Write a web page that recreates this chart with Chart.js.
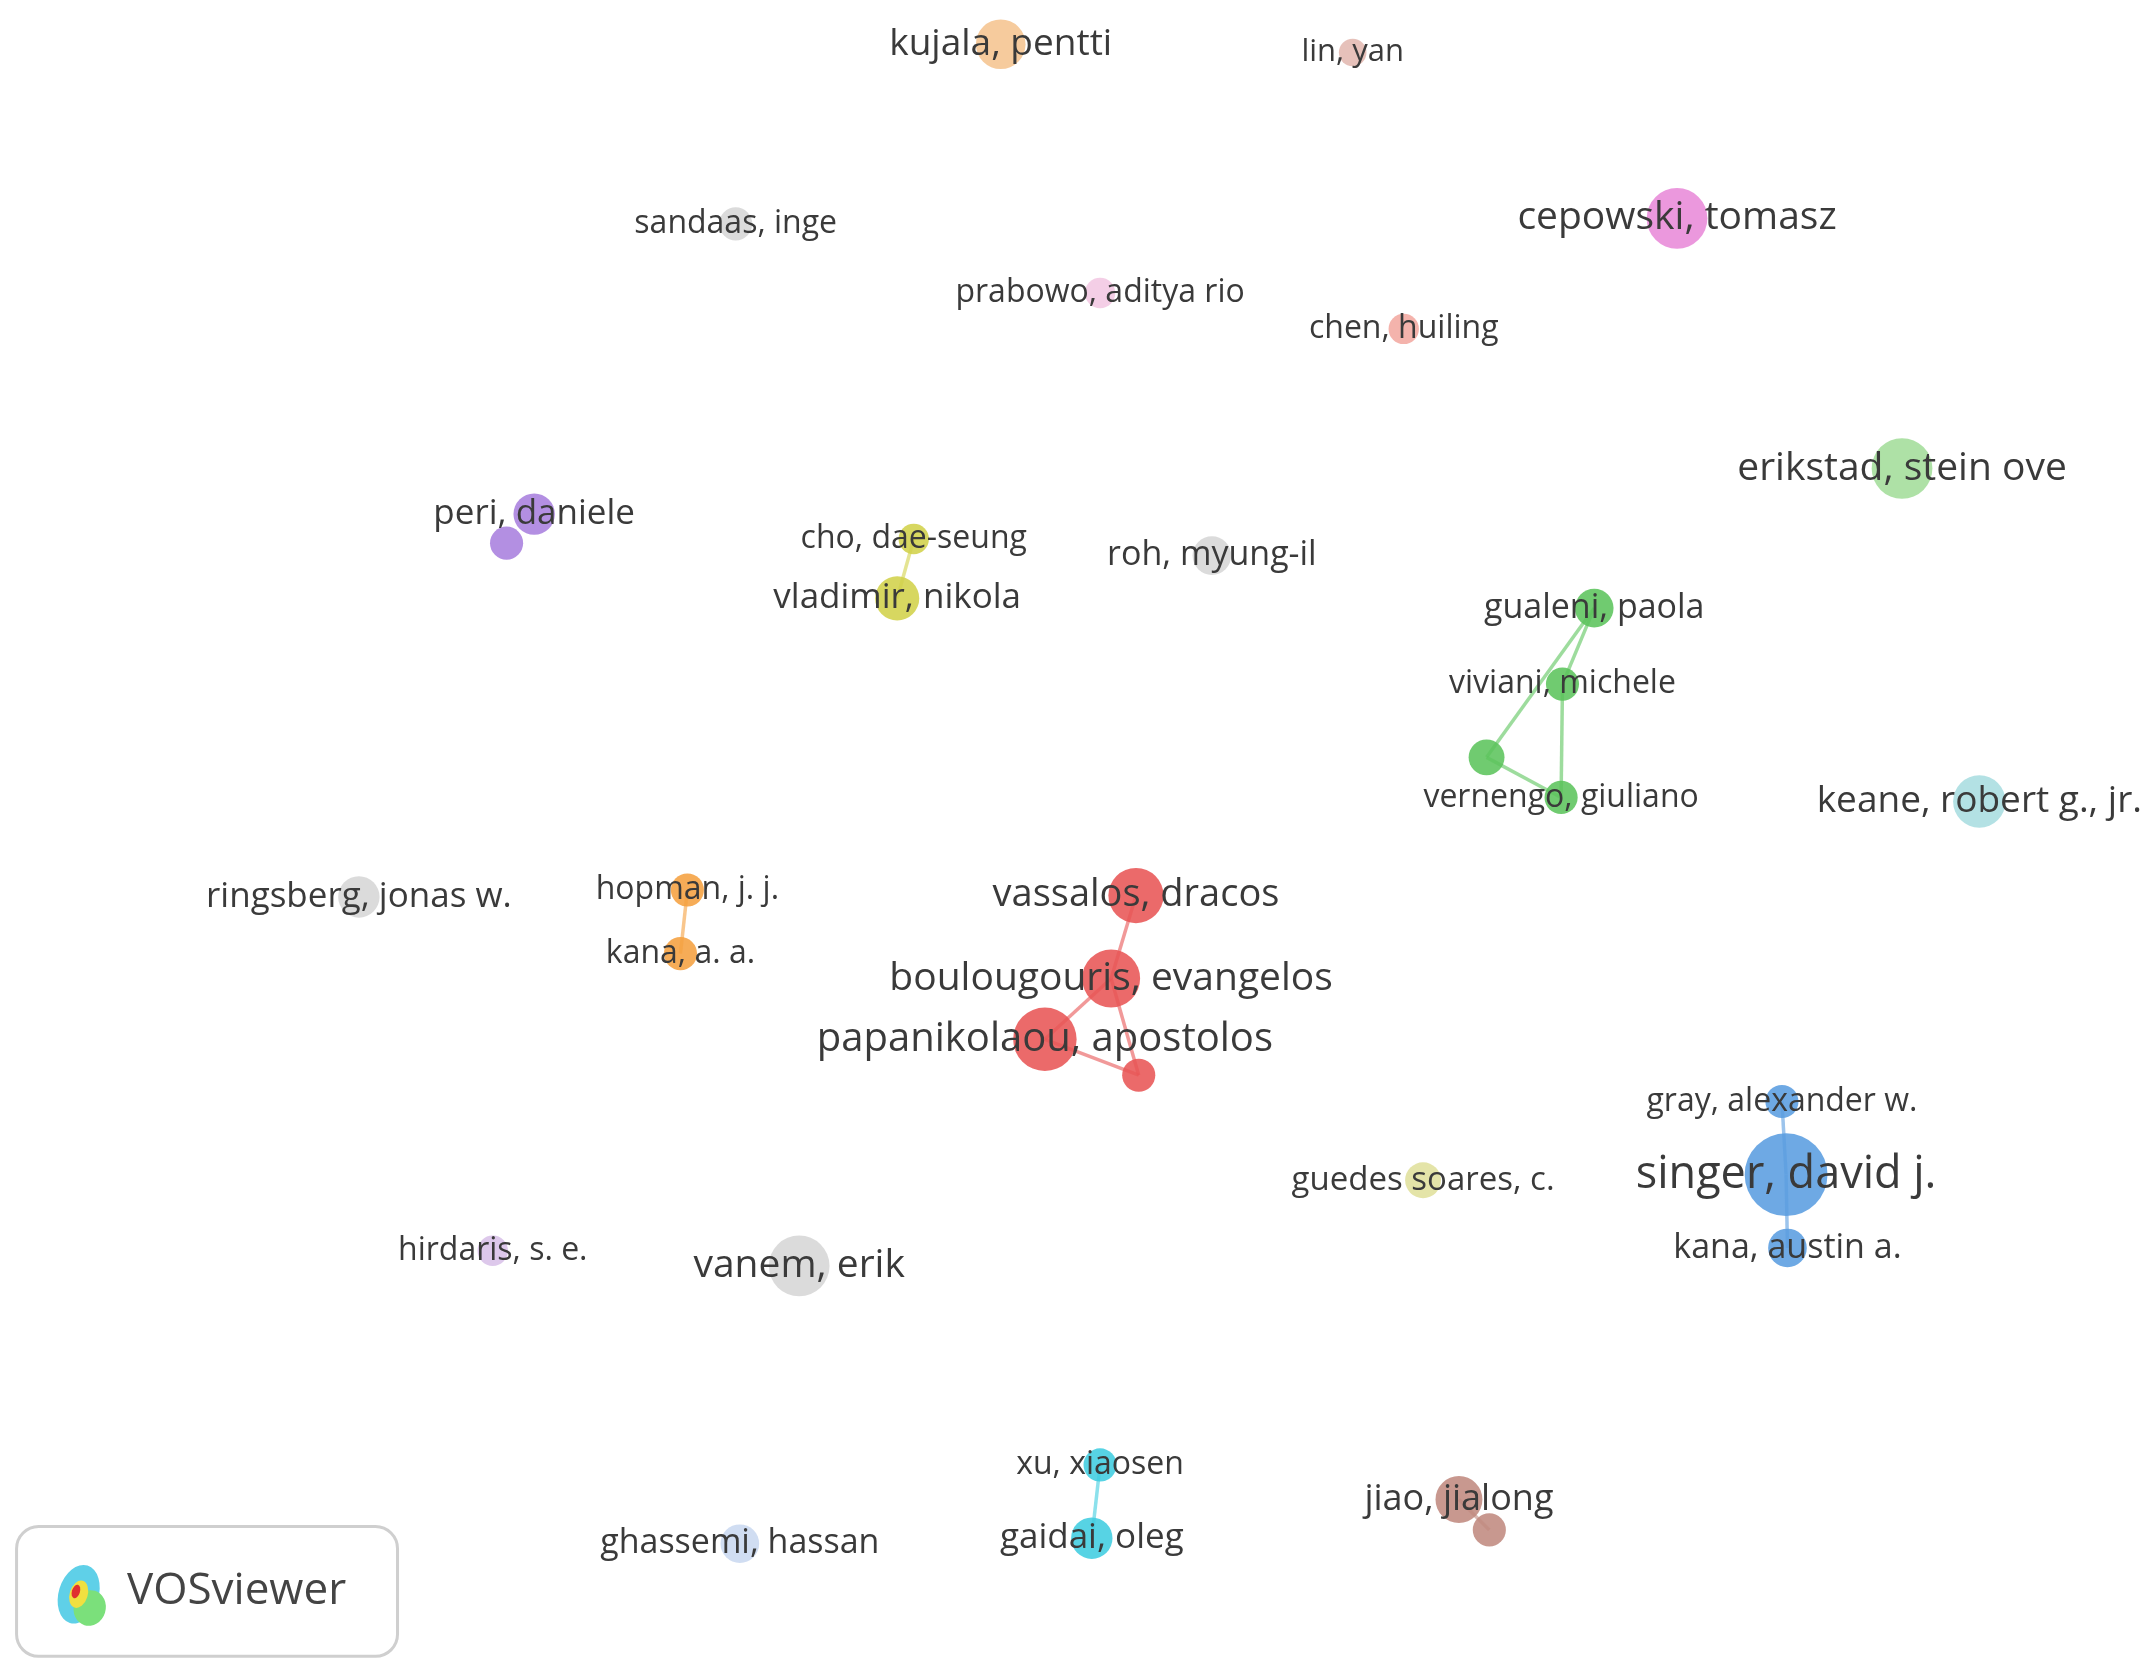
<!DOCTYPE html>
<html>
<head>
<meta charset="utf-8">
<script src="https://cdn.jsdelivr.net/npm/chart.js@4"></script>
<style>
  html, body { margin: 0; padding: 0; background: #fff; }
  #wrap { width: 2156px; height: 1675px; }
</style>
</head>
<body>
<div id="wrap"><canvas id="map"></canvas></div>
<script>
// map coordinates (VOSviewer layout units), node weights and cluster of every author
const labels = ['kujala, pentti', 'lin, yan', 'sandaas, inge', 'cepowski, tomasz', 'prabowo, aditya rio',
  'chen, huiling', 'erikstad, stein ove', 'peri, daniele', '', 'cho, dae-seung', 'vladimir, nikola',
  'roh, myung-il', 'gualeni, paola', 'viviani, michele', '', 'vernengo, giuliano', 'keane, robert g., jr.',
  'ringsberg, jonas w.', 'hopman, j. j.', 'kana, a. a.', 'vassalos, dracos', 'boulougouris, evangelos',
  'papanikolaou, apostolos', '', 'gray, alexander w.', 'singer, david j.', 'kana, austin a.',
  'guedes soares, c.', 'hirdaris, s. e.', 'vanem, erik', 'xu, xiaosen', 'gaidai, oleg', 'jiao, jialong', '',
  'ghassemi, hassan'];
const xs = [725, 980, 533, 1215, 797, 1017, 1378, 387, 367, 662, 650, 878, 1155, 1132, 1077, 1131, 1434,
  260, 498, 493, 823, 805, 757, 825, 1291, 1294, 1295, 1031, 357, 579, 797, 791, 1057, 1079, 536];
const ys = [32, 38, 162, 158, 212, 238, 339, 372, 393, 390, 433, 402, 440, 495, 548, 577, 580,
  649, 644, 690, 648, 708, 752, 778, 797, 850, 903, 854, 905, 916, 1060, 1113, 1085, 1107, 1117];
const weights = [18, 10, 12, 22, 11, 11, 22, 15, 12, 11, 16, 14, 14, 12, 13, 12, 19,
  15, 12, 12, 20, 21, 23, 12, 12, 30, 14, 13, 11, 22, 12, 15, 17, 12, 14];
const clusters = [0, 1, 2, 3, 4, 5, 6, 7, 7, 8, 8, 2, 9, 9, 9, 9, 10,
  2, 11, 11, 12, 12, 12, 12, 13, 13, 13, 14, 15, 2, 16, 16, 17, 17, 18];
const clusterColors = ['#f5c48f', '#e3b8b0', '#d6d6d6', '#e88ad8', '#f2c7e3', '#f2a9a0', '#a3dd9a',
  '#a880de', '#d2d24a', '#5cc45c', '#a8dde0', '#f5a040', '#e85555', '#5a9de0', '#e0e09c', '#d8c0e8',
  '#40cde0', '#c08a80', '#c9d8f0'];
const edges = [[9, 10], [12, 14], [14, 15], [13, 15], [12, 13], [18, 19], [20, 21], [21, 22], [22, 23],
  [21, 23], [24, 25], [25, 26], [30, 31], [32, 33]];

const S = 2156 / 1562;

const nodes = xs.map((x, i) => ({ x, y: ys[i], r: weights[i] * S }));
const edgeSets = edges.map(([a, b]) => ({
  type: 'line',
  data: [{ x: xs[a], y: ys[a] }, { x: xs[b], y: ys[b] }],
  borderColor: clusterColors[clusters[a]] + '99',
  borderWidth: 3.5,
  pointRadius: 0,
  order: 2,
}));

const labelPlugin = {
  id: 'labels',
  afterDatasetsDraw(chart) {
    const { ctx, scales } = chart;
    ctx.save();
    ctx.textAlign = 'center';
    ctx.textBaseline = 'middle';
    labels.forEach((t, i) => {
      if (!t) return;
      const fs = Math.round((17.5 + weights[i] * 0.5) * S);
      ctx.font = fs + 'px "Open Sans", sans-serif';
      ctx.fillStyle = '#3a3a3a';
      ctx.fillText(t, scales.x.getPixelForValue(xs[i]), scales.y.getPixelForValue(ys[i]));
    });
    // VOSviewer badge
    const bx = 12 * S, by = 1106 * S, bw = 276 * S, bh = 94 * S;
    ctx.beginPath();
    ctx.roundRect(bx, by, bw, bh, 16 * S);
    ctx.fillStyle = '#fff';
    ctx.fill();
    ctx.strokeStyle = '#cfcfcf';
    ctx.lineWidth = 3;
    ctx.stroke();
    const ix = 57 * S, iy = 1155 * S;
    [['#5fd0e8', 0, 0, 20, 30], ['#7be07b', 8, 10, 16, 18], ['#f0e040', 0, 0, 9, 14], ['#e03030', -2, -2, 4, 7]]
      .forEach(([c, dx, dy, rx, ry]) => {
        ctx.beginPath();
        ctx.ellipse(ix + dx * S, iy + dy * S, rx, ry, 0.3, 0, Math.PI * 2);
        ctx.fillStyle = c;
        ctx.fill();
      });
    ctx.textAlign = 'left';
    ctx.font = Math.round(32 * S) + 'px "Open Sans", sans-serif';
    ctx.fillStyle = '#444';
    ctx.fillText('VOSviewer', 92 * S, 1153 * S);
    ctx.restore();
  },
};

new Chart(document.getElementById('map'), {
  type: 'bubble',
  data: {
    datasets: [
      ...edgeSets,
      {
        data: nodes,
        backgroundColor: clusters.map(c => clusterColors[c] + 'e0'),
        borderWidth: 0,
        order: 1,
      },
    ],
  },
  options: {
    responsive: true,
    maintainAspectRatio: false,
    animation: false,
    layout: { padding: 0, autoPadding: false },
    plugins: { legend: { display: false }, tooltip: { enabled: false } },
    scales: {
      x: { type: 'linear', display: false, min: 0, max: 1562 },
      y: { type: 'linear', display: false, min: 0, max: 1212, reverse: true },
    },
  },
  plugins: [labelPlugin],
});
</script>
</body>
</html>
